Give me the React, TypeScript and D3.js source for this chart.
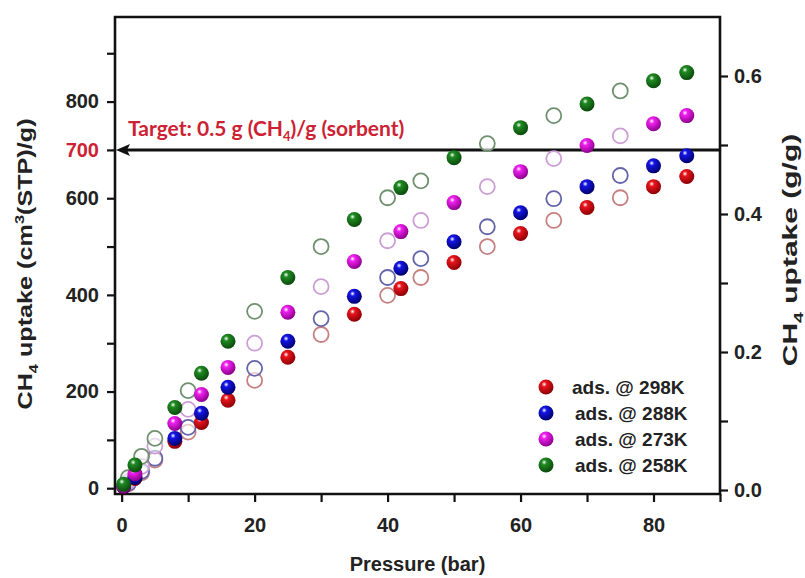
import React, { useEffect, useRef } from "react";
import * as d3 from "d3";

// pressure (bar) for adsorption (filled) and desorption (open) points
const pressureAds = [0.3, 2, 8, 12, 16, 25, 35, 42, 50, 60, 70, 80, 85];
const pressureDes = [1, 3, 5, 10, 20, 30, 40, 45, 55, 65, 75];

// CH4 uptake, cm3(STP)/g
const ads298 = [3, 20, 97, 136, 182, 271, 360, 413, 467, 527, 581, 624, 645];
const ads288 = [4, 22, 103, 155, 209, 304, 397, 455, 510, 570, 624, 667, 688];
const ads273 = [5, 30, 134, 194, 250, 364, 469, 531, 591, 655, 709, 754, 771];
const ads258 = [8, 48, 167, 238, 304, 436, 556, 622, 684, 746, 795, 843, 860];

const des298 = [9, 32, 58, 116, 223, 318, 399, 436, 500, 554, 601];
const des288 = [10, 35, 62, 126, 248, 351, 436, 475, 541, 599, 647];
const des273 = [14, 45, 87, 163, 300, 417, 512, 554, 624, 682, 729];
const des258 = [22, 66, 103, 202, 366, 500, 601, 636, 713, 771, 822];

const seriesNames = ["ads. @ 298K", "ads. @ 288K", "ads. @ 273K", "ads. @ 258K"];
const seriesKeys = ["r", "b", "m", "g"];
const fillColors = ["#e8141c", "#1414e6", "#f020f0", "#1f8a22"];
const darkColors = ["#8c0006", "#00006e", "#8c008c", "#0b4a0d"];
const openStroke = ["#c68080", "#6464aa", "#cc9ed6", "#6f906f"];

const leftTicks = [0, 100, 200, 300, 400, 500, 600, 700, 800, 900];
const leftLabels = [0, 200, 400, 600, 700, 800];
const rightTicks = [0, 0.1, 0.2, 0.3, 0.4, 0.5, 0.6];
const rightLabels = [0, 0.2, 0.4, 0.6];
const xTicks = [0, 10, 20, 30, 40, 50, 60, 70, 80, 90];
const xLabels = [0, 20, 40, 60, 80];
const targetValue = 700;

const App = () => {
  const svgRef = useRef(null);

  useEffect(() => {
    const width = 805;
    const height = 578;
    const left = 115, right = 720, top = 17, bottom = 494;

    const svg = d3.select(svgRef.current);
    svg.selectAll("*").remove();
    svg.attr("width", width).attr("height", height);

    const x = d3.scaleLinear().domain([-1, 90]).range([left, right]);
    const y = d3.scaleLinear().domain([-12, 975]).range([bottom, top]);
    const y2 = d3.scaleLinear().domain([-0.0058, 0.6855]).range([bottom, top]);

    const defs = svg.append("defs");
    seriesKeys.forEach((k, i) => {
      const g = defs.append("radialGradient")
        .attr("id", "ball-" + k)
        .attr("cx", "38%").attr("cy", "32%").attr("r", "68%");
      g.append("stop").attr("offset", "0%").attr("stop-color", "#ffffff");
      g.append("stop").attr("offset", "25%").attr("stop-color", fillColors[i]);
      g.append("stop").attr("offset", "100%").attr("stop-color", darkColors[i]);
    });

    const font = "'Liberation Sans', Arial, sans-serif";

    // Axes
    const styleAxis = (g) => {
      g.select(".domain").remove();
      g.selectAll("line").attr("stroke", "#111").attr("stroke-width", 2.2);
      g.selectAll("text")
        .attr("fill", "#222")
        .style("font-family", font)
        .style("font-size", "20px")
        .style("font-weight", "bold");
    };

    svg.append("g")
      .attr("transform", `translate(0,${bottom})`)
      .call(d3.axisBottom(x).tickValues(xTicks).tickSize(8).tickPadding(16)
        .tickFormat(d => (xLabels.includes(d) ? d : "")))
      .call(styleAxis);

    svg.append("g")
      .attr("transform", `translate(${left},0)`)
      .call(d3.axisLeft(y).tickValues(leftTicks).tickSize(8).tickPadding(8)
        .tickFormat(d => (leftLabels.includes(d) ? d : "")))
      .call(styleAxis)
      .selectAll("text")
      .attr("fill", d => (d === targetValue ? "#cc2233" : "#222"));

    svg.append("g")
      .attr("transform", `translate(${right},0)`)
      .call(d3.axisRight(y2).tickValues(rightTicks).tickSize(8).tickPadding(6)
        .tickFormat(d => (rightLabels.some(v => Math.abs(v - d) < 1e-9) ? d3.format(".1f")(d) : "")))
      .call(styleAxis);

    // Frame
    svg.append("path")
      .attr("d", `M${left},${bottom}V${top}H${right}V${bottom}Z`)
      .attr("fill", "none")
      .attr("stroke", "#111")
      .attr("stroke-width", 2.6);

    // Axis titles (stretched along their length like the original)
    const lt = svg.append("text")
      .attr("transform", `translate(32,264) rotate(-90) scale(1.26,1)`)
      .attr("text-anchor", "middle")
      .attr("fill", "#222")
      .style("font-family", font)
      .style("font-size", "20px")
      .style("font-weight", "bold");
    lt.append("tspan").text("CH");
    lt.append("tspan").attr("dy", 6).style("font-size", "13px").text("4");
    lt.append("tspan").attr("dy", -6).text(" uptake (cm");
    lt.append("tspan").attr("dy", -8).style("font-size", "13px").text("3");
    lt.append("tspan").attr("dy", 8).text("(STP)/g)");

    const rt = svg.append("text")
      .attr("transform", `translate(797,250) rotate(-90) scale(1.5,1)`)
      .attr("text-anchor", "middle")
      .attr("fill", "#222")
      .style("font-family", font)
      .style("font-size", "20px")
      .style("font-weight", "bold");
    rt.append("tspan").text("CH");
    rt.append("tspan").attr("dy", 6).style("font-size", "13px").text("4");
    rt.append("tspan").attr("dy", -6).text(" uptake (g/g)");

    svg.append("text")
      .attr("x", (left + right) / 2)
      .attr("y", 571)
      .attr("text-anchor", "middle")
      .attr("fill", "#222")
      .style("font-family", font)
      .style("font-size", "20px")
      .style("font-weight", "bold")
      .text("Pressure (bar)");

    // Target line with arrow
    const ty = y(targetValue);
    svg.append("line")
      .attr("x1", left + 10).attr("x2", right)
      .attr("y1", ty).attr("y2", ty)
      .attr("stroke", "#111").attr("stroke-width", 3);
    svg.append("path")
      .attr("d", `M${left + 1},${ty}L${left + 15},${ty - 6}L${left + 12},${ty}L${left + 15},${ty + 6}Z`)
      .attr("fill", "#111");

    const tt = svg.append("text")
      .attr("x", 128)
      .attr("y", ty - 14)
      .attr("fill", "#cc2233")
      .style("font-family", "Lato, 'Open Sans', sans-serif")
      .style("font-size", "21px")
      .style("font-weight", "bold");
    tt.append("tspan").text("Target: 0.5 g (CH");
    tt.append("tspan").attr("dy", 5).style("font-size", "13px").text("4");
    tt.append("tspan").attr("dy", -5).text(")/g (sorbent)");

    // Desorption (open) points
    const desSets = [des298, des288, des273, des258];
    desSets.forEach((vals, i) => {
      svg.append("g")
        .selectAll("circle")
        .data(vals)
        .join("circle")
        .attr("cx", (d, j) => x(pressureDes[j]))
        .attr("cy", d => y(d))
        .attr("r", 7.5)
        .attr("fill", "#fff")
        .attr("fill-opacity", 0.6)
        .attr("stroke", openStroke[i])
        .attr("stroke-width", 1.8);
    });

    // Adsorption (filled) points
    const adsSets = [ads298, ads288, ads273, ads258];
    adsSets.forEach((vals, i) => {
      svg.append("g")
        .selectAll("circle")
        .data(vals)
        .join("circle")
        .attr("cx", (d, j) => x(pressureAds[j]))
        .attr("cy", d => y(d))
        .attr("r", 7.5)
        .attr("fill", `url(#ball-${seriesKeys[i]})`);
    });

    // Legend
    const legend = svg.append("g").attr("transform", "translate(546,387)");
    seriesNames.forEach((name, i) => {
      const row = legend.append("g").attr("transform", `translate(0,${i * 26})`);
      row.append("circle")
        .attr("r", 7.5)
        .attr("fill", `url(#ball-${seriesKeys[i]})`);
      row.append("text")
        .attr("x", i === 0 ? 26 : 29)
        .attr("y", 7)
        .attr("fill", "#222")
        .style("font-family", font)
        .style("font-size", "19px")
        .style("font-weight", "bold")
        .text(name);
    });
  }, []);

  return (
    <div style={{ position: "absolute", left: 0, top: 0 }}>
      <svg ref={svgRef}></svg>
    </div>
  );
};

export default App;
